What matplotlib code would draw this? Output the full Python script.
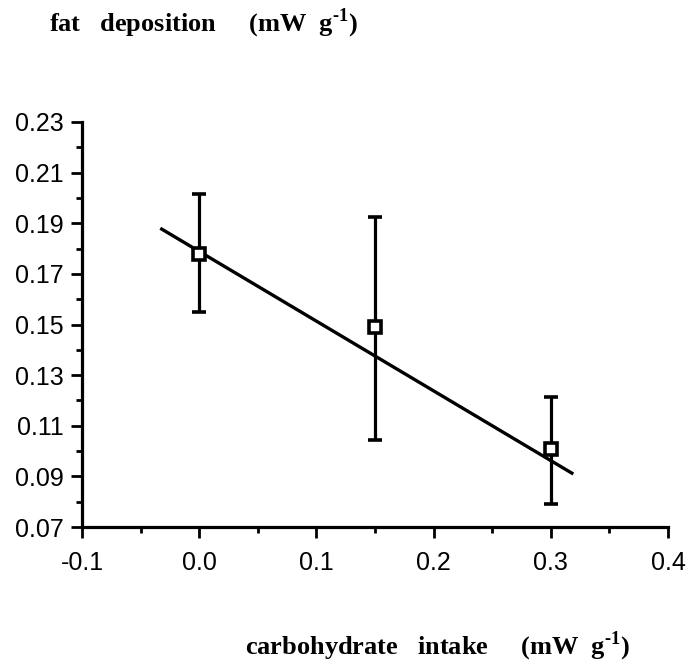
import matplotlib
matplotlib.use('Agg')
import matplotlib.pyplot as plt

# datos
carbohidratos = [0.0, 0.15, 0.30]
grasa = [0.178, 0.149, 0.101]
error_sup = [0.2016, 0.1925, 0.1214]
error_inf = [0.155, 0.1044, 0.079]

# extremos de la recta de regresion
recta_x = [-0.032, 0.318]
recta_y = [0.1877, 0.0913]

ticks_x = [-0.1, 0.0, 0.1, 0.2, 0.3, 0.4]
ticks_x_menores = [-0.05, 0.05, 0.15, 0.25, 0.35]
etiquetas_x = ['-0.1', '0.0', '0.1', '0.2', '0.3', '0.4']
ticks_y = [0.07, 0.09, 0.11, 0.13, 0.15, 0.17, 0.19, 0.21, 0.23]
ticks_y_menores = [0.08, 0.10, 0.12, 0.14, 0.16, 0.18, 0.20, 0.22]
etiquetas_y = ['0.07', '0.09', '0.11', '0.13', '0.15', '0.17', '0.19', '0.21', '0.23']

plt.rcParams['font.family'] = 'Liberation Sans'
plt.rcParams['mathtext.fontset'] = 'custom'
plt.rcParams['mathtext.rm'] = 'Liberation Serif:bold'
plt.rcParams['mathtext.bf'] = 'Liberation Serif:bold'

fig = plt.figure(figsize=(6.91, 6.63), dpi=100)
ax = fig.add_axes([0.1187, 0.205, 0.848, 0.611])

ax.plot(recta_x, recta_y, color='black', linewidth=2.4, zorder=2)

abajo = [g - e for g, e in zip(grasa, error_inf)]
arriba = [e - g for g, e in zip(grasa, error_sup)]
ax.errorbar(carbohidratos, grasa, yerr=[abajo, arriba], fmt='s', color='black',
            markerfacecolor='white', markeredgecolor='black', markersize=8.5,
            markeredgewidth=2.6, elinewidth=2.3, capsize=5, capthick=2.3, zorder=3)

ax.set_xlim(-0.1, 0.4)
ax.set_ylim(0.07, 0.23)
ax.set_xticks(ticks_x)
ax.set_xticklabels(etiquetas_x)
ax.set_xticks(ticks_x_menores, minor=True)
ax.set_yticks(ticks_y)
ax.set_yticklabels(etiquetas_y)
ax.set_yticks(ticks_y_menores, minor=True)

for lado in ['top', 'right']:
  ax.spines[lado].set_visible(False)
for lado in ['left', 'bottom']:
  ax.spines[lado].set_linewidth(2.3)

ax.tick_params(which='major', direction='out', length=8, width=2, labelsize=18)
ax.tick_params(which='minor', direction='out', length=4.5, width=2)
ax.tick_params(axis='x', pad=9)
ax.tick_params(axis='y', pad=5)

fig.text(49 / 691, 1 - 23 / 663, r'fat   deposition     (mW  g$^{\text{-}\mathbf{1}}$)',
         fontfamily='Liberation Serif', fontweight='bold', fontsize=19,
         ha='left', va='center')
fig.text(245 / 691, 1 - 646 / 663, r'carbohydrate   intake     (mW  g$^{\text{-}\mathbf{1}}$)',
         fontfamily='Liberation Serif', fontweight='bold', fontsize=19,
         ha='left', va='center')

fig.savefig('out.png', dpi=100)
